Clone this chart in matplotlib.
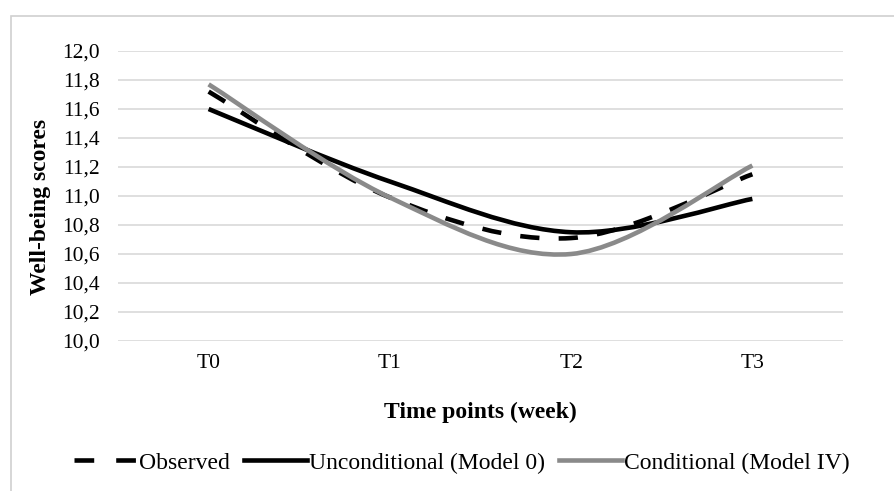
import numpy as np
import matplotlib
matplotlib.use("Agg")
import matplotlib.pyplot as plt
from matplotlib.path import Path
from matplotlib.patches import PathPatch, Rectangle
from matplotlib.lines import Line2D

plt.rcParams['font.family'] = ['Liberation Serif', 'DejaVu Serif']

# data
time_points = ['T0', 'T1', 'T2', 'T3']
observed = [11.72, 10.99, 10.71, 11.15]
unconditional = [11.60, 11.10, 10.75, 10.98]
conditional = [11.77, 10.99, 10.60, 11.21]
y_ticks = [10.0, 10.2, 10.4, 10.6, 10.8, 11.0, 11.2, 11.4, 11.6, 11.8, 12.0]


def smooth_path(xs, ys):
    # excel-like smoothed line: cubic bezier through the points (catmull-rom)
    p = np.column_stack((xs, ys)).astype(float)
    ext = np.vstack((p[0], p, p[-1]))
    verts = [p[0]]
    codes = [Path.MOVETO]
    for i in range(len(p) - 1):
        p0, p1, p2, p3 = ext[i], ext[i + 1], ext[i + 2], ext[i + 3]
        c1 = p1 + (p2 - p0) / 6.0
        c2 = p2 - (p3 - p1) / 6.0
        verts += [c1, c2, p2]
        codes += [Path.CURVE4] * 3
    return Path(verts, codes)


fig = plt.figure(figsize=(8.95, 4.91), dpi=100)
ax = fig.add_axes([118 / 895, 1 - 341 / 491, 725 / 895, 290 / 491])

# chart border (image cut at right and bottom)
fig.patches.append(Rectangle((11 / 895, -0.1), 1.2, 1 - 16 / 491 + 0.1,
                             transform=fig.transFigure, fill=False,
                             ec='#d0d0d0', lw=1.2))

x = np.arange(len(time_points))
series = [
    (observed, 'Observed', 'black', (0, (4.2, 4.2)), (0, (4.3, 4.8))),
    (unconditional, 'Unconditional (Model 0)', 'black', 'solid', 'solid'),
    (conditional, 'Conditional (Model IV)', '#8a8a8a', 'solid', 'solid'),
]
handles = []
for vals, lab, col, ls, hls in series:
    patch = PathPatch(smooth_path(x, vals), fill=False, ec=col, lw=3.3,
                      ls=ls, capstyle='butt', zorder=3)
    ax.add_patch(patch)
    handles.append(Line2D([], [], color=col, lw=3.3, ls=hls, label=lab))

ax.set_xlim(-0.5, 3.5)
ax.set_ylim(10.0, 12.0)
ax.set_yticks(y_ticks)
ax.set_yticklabels([f'{v:.1f}'.replace('.', ',') for v in y_ticks])
ax.set_xticks(x)
ax.set_xticklabels(time_points)
ax.yaxis.grid(True, color='#d9d9d9', lw=1.2)
ax.set_axisbelow(True)
for s in ax.spines.values():
    s.set_visible(False)
ax.tick_params(length=0, labelsize=15.5)
ax.tick_params(axis='y', pad=13)
ax.tick_params(axis='x', pad=9)

ax.set_ylabel('Well-being scores', fontsize=17, fontweight='bold')
ax.yaxis.set_label_coords(-0.092, 0.462)
ax.set_xlabel('Time points (week)', fontsize=17, fontweight='bold', labelpad=21)

fig.legend(handles=handles, loc='center', bbox_to_anchor=(462 / 895, 1 - 463 / 491),
           ncol=3, frameon=False, fontsize=17, handlelength=2.65,
           handletextpad=0.1, columnspacing=0.6)

fig.savefig('out.png', dpi=100, facecolor='white')
